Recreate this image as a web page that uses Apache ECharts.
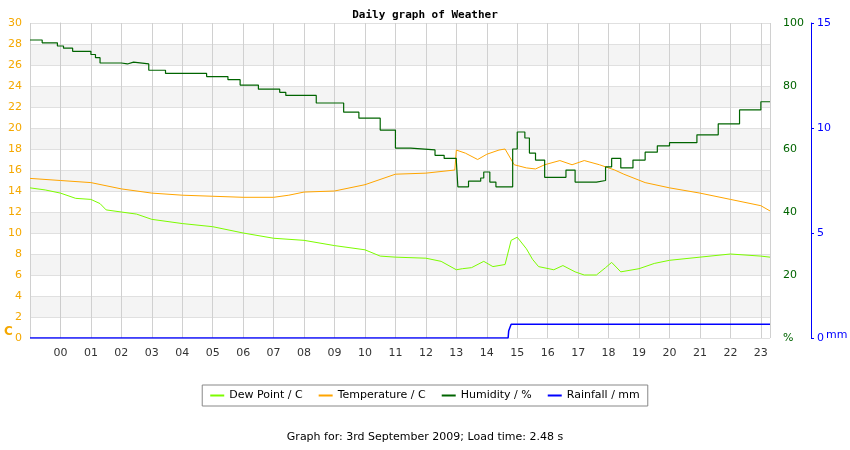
<!DOCTYPE html>
<html><head><meta charset="utf-8">
<script src="https://cdn.jsdelivr.net/npm/echarts@6/dist/echarts.min.js"></script>
<style>html,body{margin:0;padding:0;background:#fff}#c{width:850px;height:450px}</style>
</head><body><div id="c"></div>
<script>
const hourLabels=['00','01','02','03','04','05','06','07','08','09','10','11','12','13','14','15','16','17','18','19','20','21','22','23'];
const humidity=[[-1,94.6],[-0.6,93.7],[-0.1,92.7],[0.1,92],[0.4,91],[1.0,90],[1.15,89],[1.3,87.3],[2.0,87],[2.2,87.6],[2.4,87],[2.9,85],[3.45,84],[4.55,84],[4.8,83],[5.5,82],[5.9,80.3],[6.5,79],[7.2,78],[7.4,77],[8.4,74.6],[9.3,71.7],[9.8,69.8],[10.5,66],[11.0,60.3],[11.5,59.7],[12.3,58],[12.6,57],[13.0,56.2],[13.05,48],[13.4,49.8],[13.8,50.8],[13.9,52.7],[14.1,49.5],[14.3,48],[14.7,48],[14.85,60],[15.0,65.4],[15.25,63.5],[15.4,58.7],[15.6,56.5],[15.9,51],[16.3,51],[16.6,53.3],[16.9,49.5],[17.6,50],[17.9,54.3],[18.1,57],[18.4,54],[18.8,56.5],[19.2,59],[19.6,61],[20.0,62],[20.9,64.5],[21.6,68],[22.3,72.4],[23.0,75],[23.3,75]];
const temperature=[[-1,15.2],[0,15.0],[1,14.8],[2,14.2],[3,13.8],[4,13.6],[5,13.5],[6,13.4],[7,13.4],[7.5,13.6],[8,13.9],[9,14.0],[10,14.6],[11,15.6],[12,15.7],[12.95,16.0],[13.0,17.9],[13.3,17.6],[13.7,17.0],[14.0,17.5],[14.4,17.9],[14.6,18.0],[14.9,16.5],[15.3,16.2],[15.6,16.1],[15.9,16.5],[16.4,16.9],[16.8,16.5],[17.2,16.9],[17.7,16.5],[18.2,16.0],[18.5,15.6],[19.2,14.8],[20,14.3],[21,13.8],[22,13.2],[23,12.6],[23.3,12.1]];
const dewPoint=[[-1,14.3],[-0.5,14.1],[0,13.8],[0.5,13.3],[1,13.2],[1.3,12.8],[1.5,12.2],[2,12.0],[2.5,11.8],[3,11.3],[4,10.9],[5,10.6],[6,10.0],[7,9.5],[8,9.3],[9,8.8],[10,8.4],[10.5,7.8],[11,7.7],[12,7.6],[12.5,7.3],[13,6.5],[13.2,6.6],[13.5,6.7],[13.9,7.3],[14.2,6.8],[14.6,7.0],[14.8,9.3],[15.0,9.6],[15.3,8.5],[15.5,7.5],[15.7,6.8],[16.2,6.5],[16.5,6.9],[16.9,6.3],[17.2,6.0],[17.6,6.0],[17.9,6.7],[18.1,7.2],[18.4,6.3],[19,6.6],[19.5,7.1],[20,7.4],[21,7.7],[22,8.0],[23,7.8],[23.3,7.7]];
const rainfall=[[-1,0],[14.7,0],[14.72,0.35],[14.8,0.65],[23.3,0.65]];

const chart=echarts.init(document.getElementById('c'));
const font='DejaVu Sans';
chart.setOption({
  animation:false,
  title:{text:'Daily graph of Weather',left:'center',top:5,textStyle:{fontFamily:'DejaVu Sans Mono',fontSize:11,fontWeight:'bold',color:'#000'}},
  grid:{left:30,right:80,top:23,bottom:112},
  xAxis:{type:'value',min:-1,max:23.3,interval:1,
    axisLine:{show:false},axisTick:{show:false},
    axisLabel:{fontFamily:font,fontSize:11,color:'#333',margin:10,showMaxLabel:false,
      formatter:v=>v<0?'':(hourLabels[v]||'')},
    splitLine:{show:true,lineStyle:{color:'#d0d0d0'}}},
  yAxis:[
    {type:'value',min:0,max:30,interval:2,position:'left',
     axisLine:{show:true,lineStyle:{color:'#ccc'}},axisTick:{show:false},
     axisLabel:{color:'#f5a800',fontFamily:font,fontSize:11,margin:8},
     splitLine:{lineStyle:{color:'#e0e0e0'}},
     splitArea:{show:true,areaStyle:{color:['#ffffff','#f4f4f4']}}},
    {type:'value',min:0,max:100,interval:20,position:'right',offset:5,
     axisLine:{show:false},axisTick:{show:false},splitLine:{show:false},
     axisLabel:{color:'#006400',fontFamily:font,fontSize:11,margin:8,formatter:v=>v===0?'%':v}},
    {type:'value',min:0,max:15,interval:5,position:'right',offset:41,
     axisLine:{show:true,lineStyle:{color:'#0000ff'}},axisTick:{show:true,length:3},splitLine:{show:false},
     axisLabel:{color:'#0000ff',fontFamily:font,fontSize:11,margin:6}}
  ],
  legend:{bottom:44,left:'center',itemWidth:14,itemHeight:2,itemGap:16,icon:'rect',
    borderColor:'#888',borderWidth:1,padding:[5,8],
    textStyle:{fontFamily:font,fontSize:11,color:'#000'},
    data:['Dew Point / C','Temperature / C','Humidity / %','Rainfall / mm']},
  graphic:[
    {type:'text',left:4,top:326,style:{text:'C',fill:'#f5a800',font:'bold 12px DejaVu Sans'}},
    {type:'text',left:826,top:330,style:{text:'mm',fill:'#0000ff',font:'11px DejaVu Sans'}},
    {type:'text',left:'center',top:432,style:{text:'Graph for: 3rd September 2009; Load time: 2.48 s',fill:'#000',font:'11px DejaVu Sans'}}
  ],
  series:[
    {name:'Dew Point / C',type:'line',yAxisIndex:0,data:dewPoint,showSymbol:false,lineStyle:{color:'#7cfc00',width:1},itemStyle:{color:'#7cfc00'}},
    {name:'Temperature / C',type:'line',yAxisIndex:0,data:temperature,showSymbol:false,lineStyle:{color:'#ffa500',width:1},itemStyle:{color:'#ffa500'}},
    {name:'Humidity / %',type:'line',yAxisIndex:1,data:humidity,showSymbol:false,step:'end',lineStyle:{color:'#006400',width:1.2},itemStyle:{color:'#006400'}},
    {name:'Rainfall / mm',type:'line',yAxisIndex:2,data:rainfall,showSymbol:false,lineStyle:{color:'#0000ff',width:1.5},itemStyle:{color:'#0000ff'}}
  ]
});
</script></body></html>
